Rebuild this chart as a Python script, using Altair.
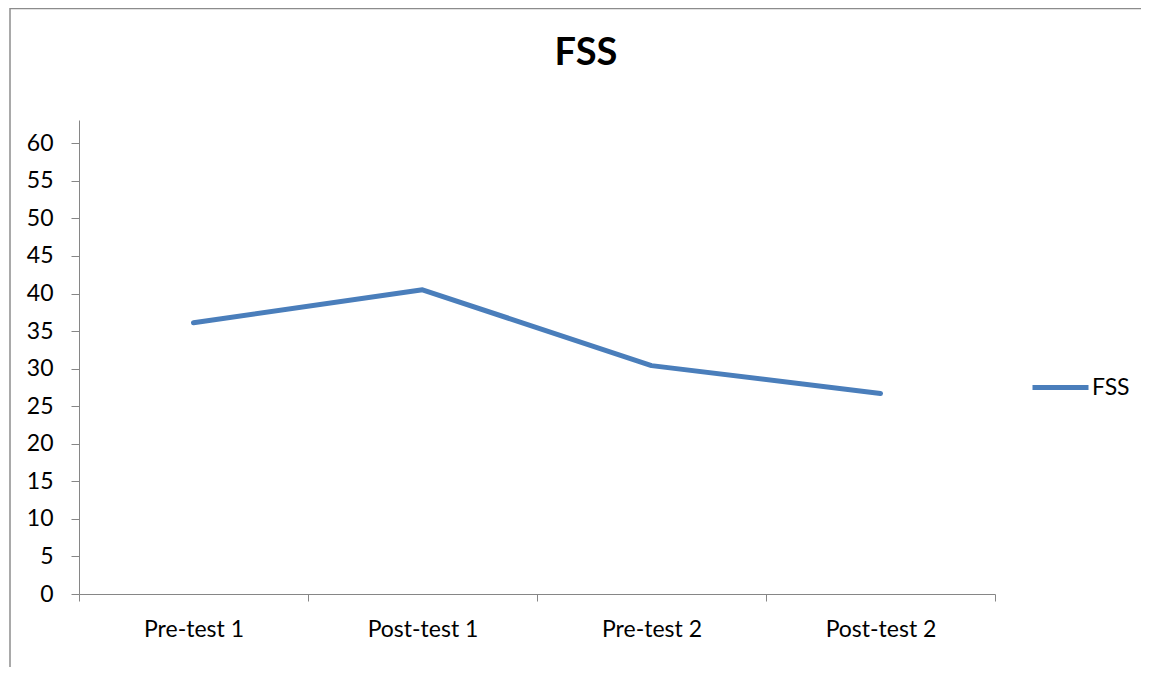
import altair as alt
import pandas as pd

categories = ["Pre-test 1", "Post-test 1", "Pre-test 2", "Post-test 2"]
fss_values = [36.1, 40.5, 30.4, 26.7]
series_name = "FSS"
y_ticks = list(range(0, 61, 5))

df = pd.DataFrame({"test": categories, "value": fss_values, "series": [series_name] * len(categories)})

FONT = "Lato"
AXIS_GRAY = "#868686"
LINE_BLUE = "#4A7EBB"

line = alt.Chart(df).mark_line(strokeWidth=5, strokeCap="round", strokeJoin="round").encode(
    x=alt.X("test:N", sort=categories,
            scale=alt.Scale(type="band", paddingInner=0, paddingOuter=0),
            axis=alt.Axis(title=None, tickBand="extent", labelAngle=0, domainColor=AXIS_GRAY,
                          tickColor=AXIS_GRAY, tickSize=7, labelPadding=17, labelFont=FONT,
                          labelFontSize=23, labelColor="#000000", grid=False)),
    y=alt.Y("value:Q", scale=alt.Scale(domain=[0, 63.1], nice=False, zero=True),
            axis=alt.Axis(title=None, values=y_ticks, domainColor=AXIS_GRAY, tickColor=AXIS_GRAY,
                          tickSize=8, labelPadding=18, labelFont=FONT, labelFontSize=23,
                          labelColor="#000000", grid=False)),
    color=alt.Color("series:N", scale=alt.Scale(domain=[series_name], range=[LINE_BLUE]),
                    legend=alt.Legend(title=None, orient="none", legendX=951, legendY=237,
                                      symbolType="stroke", symbolSize=3136, symbolStrokeWidth=5,
                                      labelFont=FONT, labelFontSize=23, labelColor="#000000",
                                      labelOffset=1, padding=0)),
)

frame_df = pd.DataFrame({"k": [0]})
frame_left = alt.Chart(frame_df).mark_rule(color="#8c8c8c", strokeWidth=1.5).encode(
    x=alt.value(-69), y=alt.value(-112), y2=alt.value(560))
frame_top = alt.Chart(frame_df).mark_rule(color="#8c8c8c", strokeWidth=1.5).encode(
    x=alt.value(-69), x2=alt.value(1100), y=alt.value(-111.5))

chart = alt.layer(frame_left, frame_top, line).properties(
    width=916, height=474,
    background="white",
    autosize=alt.AutoSizeParams(type="none"),
    padding={"left": 71, "top": 112, "right": 146, "bottom": 73},
    title=alt.TitleParams("FSS", font=FONT, fontSize=38, fontWeight="bold", color="#000000",
                          anchor="middle", dx=49, offset=-95.75, baseline="alphabetic"),
).configure_view(stroke=None)

chart.save("out.html", embed_options={"renderer": "svg", "actions": False})
